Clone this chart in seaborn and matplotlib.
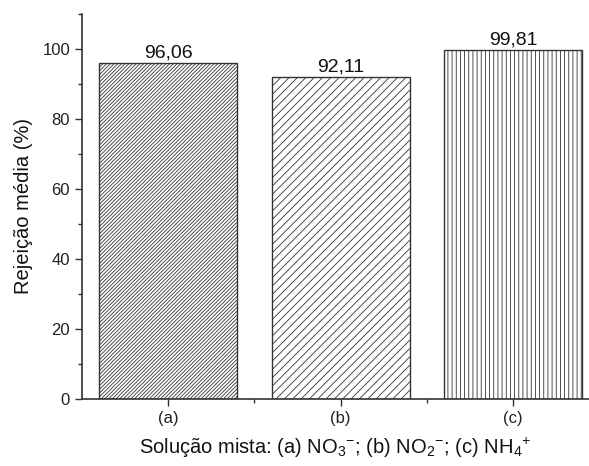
import matplotlib
matplotlib.use("Agg")
import matplotlib.pyplot as plt
import seaborn as sns
import pandas as pd
from matplotlib.ticker import MultipleLocator, FixedLocator

categories = ["(a)", "(b)", "(c)"]
values = [96.06, 92.11, 99.81]
value_labels = ["96,06", "92,11", "99,81"]
hatches = ["/////////", "////", "||||"]

sns.set_style("ticks")
plt.rcParams['font.family'] = ['Liberation Sans', 'DejaVu Sans']
plt.rcParams['mathtext.fontset'] = 'custom'
plt.rcParams['mathtext.rm'] = 'Liberation Sans'
plt.rcParams['mathtext.it'] = 'Liberation Sans'
plt.rcParams['mathtext.default'] = 'regular'
plt.rcParams['hatch.linewidth'] = 0.6
plt.rcParams['hatch.color'] = '#555555'

df = pd.DataFrame({"cat": categories, "val": values})

fig = plt.figure(figsize=(5.89, 4.66), dpi=100)
ax = fig.add_axes([0.139, 0.144, 0.861, 0.826])

sns.barplot(data=df, x="cat", y="val", color="white", edgecolor="#333333",
            linewidth=1.0, width=0.8, ax=ax, saturation=1)

for p, h in zip(ax.patches, hatches):
    p.set_hatch(h)
    p.set_facecolor("white")
    p.set_edgecolor("#333333")

ax.bar_label(ax.containers[0], labels=value_labels, fontsize=14, padding=1, color="#111111")

ax.set_ylim(0, 110)
ax.set_xlim(-0.5, 2.44)
ax.yaxis.set_major_locator(MultipleLocator(20))
ax.yaxis.set_minor_locator(MultipleLocator(10))
ax.xaxis.set_minor_locator(FixedLocator([0.5, 1.5]))

ax.set_ylabel("Rejeição média (%)", fontsize=14.5, labelpad=7, color="#111111")
ax.set_xlabel("Solução mista: (a) NO$_{3}{}^{-}$; (b) NO$_{2}{}^{-}$; (c) NH$_{4}{}^{+}$",
              fontsize=14.5, labelpad=7, color="#111111")

for s in ["top", "right"]:
    ax.spines[s].set_visible(False)
for s in ["left", "bottom"]:
    ax.spines[s].set_color("#333333")
    ax.spines[s].set_linewidth(1.2)

ax.tick_params(axis="both", which="major", length=5, width=1, color="#333333",
               labelsize=12, labelcolor="#222222", direction="out")
ax.tick_params(axis="both", which="minor", length=3, width=1, color="#333333", direction="out")

fig.savefig("out.png", dpi=100)
